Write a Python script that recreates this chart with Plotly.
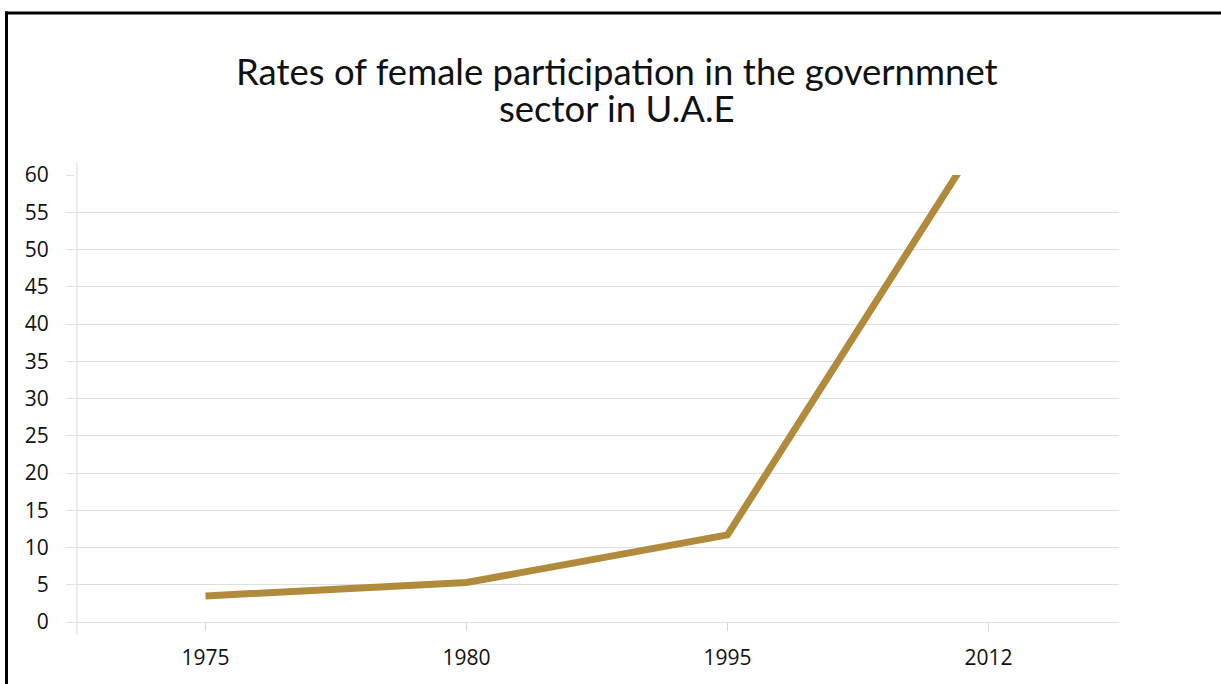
import plotly.graph_objects as go

years = ["1975", "1980", "1995", "2012"]
rates = [3.5, 5.3, 11.7, 66.7]
y_ticks = list(range(0, 61, 5))

title_line1 = "Rates of female participation in the governmnet"
title_line2 = "sector in U.A.E"

W, H = 1221, 684
L, R, T, B = 75, 102, 175, 62
pw, ph = W - L - R, H - T - B

def px_x(p):
    return (p - L) / pw

def px_y(p):
    return (H - B - p) / ph

fig = go.Figure()
fig.add_trace(go.Scatter(
    x=list(range(len(years))), y=rates, mode="lines",
    line=dict(color="#B08B3B", width=7), hoverinfo="skip",
))

grid = "#e0e0e0"
tick_font = dict(family="Open Sans", size=21, color="#111111")
title_font = dict(family="Lato", size=36.5, color="#111111")
fig.update_layout(
    width=W, height=H,
    margin=dict(l=L, r=R, t=T, b=B, autoexpand=False),
    paper_bgcolor="white", plot_bgcolor="white",
    showlegend=False,
    font=dict(family="Open Sans", color="#111111", size=20),
    xaxis=dict(
        tickmode="array", tickvals=list(range(len(years))), ticktext=years,
        range=[-0.5, len(years) - 0.5], showgrid=False, zeroline=False,
        showline=True, linecolor=grid, linewidth=1,
        ticks="outside", ticklen=8, tickcolor="#d6d6d6", tickwidth=1,
        tickfont=tick_font, ticklabelstandoff=9,
    ),
    yaxis=dict(
        range=[0, 60], tickmode="array", tickvals=y_ticks,
        showgrid=True, gridcolor=grid, gridwidth=1, zeroline=False,
        showline=False,
        ticks="outside", ticklen=8, tickcolor=grid, tickwidth=1,
        tickfont=tick_font, ticklabelstandoff=13,
    ),
    annotations=[
        dict(text=title_line1, xref="paper", yref="paper",
             x=px_x(616.5), y=px_y(71), xanchor="center", yanchor="middle",
             showarrow=False, font=title_font),
        dict(text=title_line2, xref="paper", yref="paper",
             x=px_x(616.5), y=px_y(108), xanchor="center", yanchor="middle",
             showarrow=False, font=title_font),
    ],
    shapes=[
        dict(type="line", xref="paper", yref="paper",
             x0=px_x(77), x1=px_x(77), y0=px_y(163), y1=px_y(635),
             line=dict(color="#d9d9d9", width=1)),
        dict(type="line", xref="paper", yref="paper",
             x0=px_x(5), x1=px_x(1230), y0=px_y(13), y1=px_y(13),
             line=dict(color="black", width=3)),
        dict(type="line", xref="paper", yref="paper",
             x0=px_x(6.5), x1=px_x(6.5), y0=px_y(11.5), y1=px_y(700),
             line=dict(color="black", width=3)),
    ],
)

fig.write_html("out.html", config={"displayModeBar": False},
               post_script="document.body.style.margin='0';")
